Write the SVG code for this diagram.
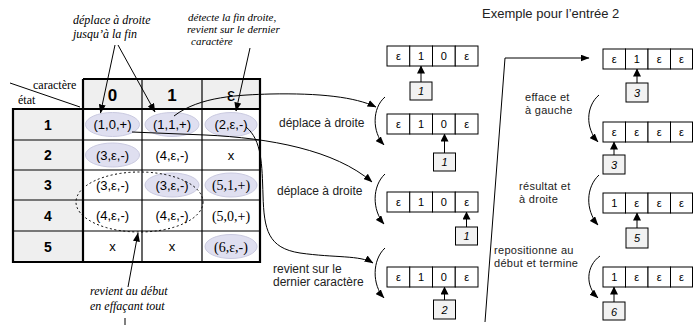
<svg xmlns="http://www.w3.org/2000/svg" width="693" height="325" viewBox="0 0 693 325">
<defs>
<marker id="ah" markerWidth="9" markerHeight="7" refX="8.5" refY="3.5" orient="auto" markerUnits="userSpaceOnUse">
<path d="M0,0 L9,3.5 L0,7 Z" fill="#000"/>
</marker>
<marker id="hh" markerWidth="8" markerHeight="8" refX="7.5" refY="4" orient="auto" markerUnits="userSpaceOnUse">
<path d="M0,0 L8,4 L0,8 Z" fill="#000"/>
</marker>
</defs>
<style>
.it{font-family:"Liberation Serif",serif;font-style:italic;font-size:11px;fill:#000}
.ser{font-family:"Liberation Serif",serif;font-size:12px;fill:#000}
.lab{font-family:"Liberation Sans",sans-serif;font-size:12px;fill:#222}
.lab2{font-family:"Liberation Sans",sans-serif;font-size:11px;letter-spacing:0.3px;fill:#222}
.cell{font-family:"Liberation Sans",sans-serif;font-size:13px;fill:#000;text-anchor:middle}
.cells{font-family:"Liberation Serif",serif;font-size:14px;fill:#000;text-anchor:middle}
.hd{font-family:"Liberation Sans",sans-serif;font-size:17px;font-weight:bold;fill:#000;text-anchor:middle}
.rw{font-family:"Liberation Sans",sans-serif;font-size:14px;font-weight:bold;fill:#000;text-anchor:middle}
.gray{fill:#efefef}
.el{fill:#dfdff0;stroke:#cacae0;stroke-width:1}
.tc{fill:#fff;stroke:#000;stroke-width:1}
.hb{fill:#f2f2f2;stroke:#000;stroke-width:1}
.tt{font-family:"Liberation Sans",sans-serif;font-size:11px;fill:#000;text-anchor:middle}
.ht{font-family:"Liberation Sans",sans-serif;font-style:italic;font-size:11px;fill:#000;text-anchor:middle}
.ln{fill:none;stroke:#000;stroke-width:1}
.thin{stroke:#000;stroke-width:1.2}
.thick{stroke:#000;stroke-width:2.2}
</style>

<text class="lab" x="482" y="18" style="font-size:13px">Exemple pour l’entrée 2</text>

<g id="table">
<rect class="gray" x="83" y="79" width="177" height="30"/>
<rect class="gray" x="13" y="109" width="70" height="153"/>
<line x1="10" y1="83" x2="80" y2="107" class="ln"/>
<text class="ser" x="33" y="89">caractère</text>
<text class="ser" x="18" y="104">état</text>
<text class="hd" x="112.5" y="101">0</text>
<text class="hd" x="172" y="101">1</text>
<text class="hd" x="231" y="101" style="font-weight:normal;font-size:18px">ε</text>
<text class="rw" x="48" y="129.5">1</text>
<text class="rw" x="48" y="160">2</text>
<text class="rw" x="48" y="190">3</text>
<text class="rw" x="48" y="220.5">4</text>
<text class="rw" x="48" y="251.5">5</text>
<g class="thin">
<line x1="13" y1="140" x2="260" y2="140"/>
<line x1="13" y1="170" x2="260" y2="170"/>
<line x1="13" y1="200" x2="260" y2="200"/>
<line x1="13" y1="231" x2="260" y2="231"/>
<line x1="142" y1="79" x2="142" y2="262"/>
<line x1="202" y1="79" x2="202" y2="262"/>
</g>
<g class="thick" fill="none">
<path d="M83,79 H260 V262 H13 V109 H260"/>
<line x1="83" y1="79" x2="83" y2="262"/>
</g>
<ellipse class="el" cx="112.5" cy="124.5" rx="27" ry="12"/>
<ellipse class="el" cx="172" cy="124.5" rx="27" ry="12"/>
<ellipse class="el" cx="231" cy="124.5" rx="26" ry="12"/>
<ellipse class="el" cx="112.5" cy="155" rx="27" ry="12"/>
<ellipse class="el" cx="172" cy="185" rx="27" ry="12"/>
<ellipse class="el" cx="231" cy="185" rx="26" ry="12"/>
<ellipse class="el" cx="231" cy="246.5" rx="26" ry="12"/>
<text class="cell" x="112.5" y="129">(1,0,+)</text>
<text class="cell" x="172" y="129">(1,1,+)</text>
<text class="cell" x="231" y="129">(2,ε,-)</text>
<text class="cell" x="112.5" y="159.5">(3,ε,-)</text>
<text class="cell" x="172" y="159.5">(4,ε,-)</text>
<text class="cell" x="231" y="159.5">x</text>
<text class="cell" x="112.5" y="189.5">(3,ε,-)</text>
<text class="cell" x="172" y="189.5">(3,ε,-)</text>
<text class="cells" x="231" y="190">(5,1,+)</text>
<text class="cell" x="112.5" y="220">(4,ε,-)</text>
<text class="cell" x="172" y="220">(4,ε,-)</text>
<text class="cells" x="231" y="220.5">(5,0,+)</text>
<text class="cell" x="112.5" y="251">x</text>
<text class="cell" x="172" y="251">x</text>
<text class="cells" x="231" y="251.5">(6,ε,-)</text>
<ellipse cx="139.5" cy="202" rx="63.5" ry="30" fill="none" stroke="#000" stroke-width="1" stroke-dasharray="2,2.5"/>
</g>

<g id="annotations">
<text class="it" x="73" y="24" style="font-size:12px">déplace à droite</text>
<text class="it" x="73" y="38" style="font-size:12px">jusqu’à la fin</text>
<text class="it" x="188" y="21">détecte la fin droite,</text>
<text class="it" x="187" y="33">revient sur le dernier</text>
<text class="it" x="191" y="45">caractère</text>
<text class="it" x="90" y="295" style="font-size:12px">revient au début</text>
<text class="it" x="90" y="310" style="font-size:12px">en effaçant tout</text>
</g>

<g id="tapes-left">
<g id="tapeL1">
<rect class="tc" x="387" y="46" width="22.75" height="20"/><rect class="tc" x="409.75" y="46" width="22.75" height="20"/><rect class="tc" x="432.5" y="46" width="22.75" height="20"/><rect class="tc" x="455.25" y="46" width="22.75" height="20"/>
<text class="tt" x="398.4" y="60">ε</text><text class="tt" x="421.1" y="60">1</text><text class="tt" x="443.9" y="60">0</text><text class="tt" x="466.6" y="60">ε</text>
<rect class="hb" x="410" y="82" width="22" height="18"/><text class="ht" x="421" y="95">1</text>
</g>
<g id="tapeL2">
<rect class="tc" x="387" y="114" width="22.75" height="20"/><rect class="tc" x="409.75" y="114" width="22.75" height="20"/><rect class="tc" x="432.5" y="114" width="22.75" height="20"/><rect class="tc" x="455.25" y="114" width="22.75" height="20"/>
<text class="tt" x="398.4" y="128">ε</text><text class="tt" x="421.1" y="128">1</text><text class="tt" x="443.9" y="128">0</text><text class="tt" x="466.6" y="128">ε</text>
<rect class="hb" x="433.5" y="153" width="22" height="18"/><text class="ht" x="444.5" y="166">1</text>
</g>
<g id="tapeL3">
<rect class="tc" x="387" y="192" width="22.75" height="20"/><rect class="tc" x="409.75" y="192" width="22.75" height="20"/><rect class="tc" x="432.5" y="192" width="22.75" height="20"/><rect class="tc" x="455.25" y="192" width="22.75" height="20"/>
<text class="tt" x="398.4" y="206">ε</text><text class="tt" x="421.1" y="206">1</text><text class="tt" x="443.9" y="206">0</text><text class="tt" x="466.6" y="206">ε</text>
<rect class="hb" x="455.5" y="227" width="22" height="18"/><text class="ht" x="466.5" y="240">1</text>
</g>
<g id="tapeL4">
<rect class="tc" x="387" y="267" width="22.75" height="20"/><rect class="tc" x="409.75" y="267" width="22.75" height="20"/><rect class="tc" x="432.5" y="267" width="22.75" height="20"/><rect class="tc" x="455.25" y="267" width="22.75" height="20"/>
<text class="tt" x="398.4" y="281">ε</text><text class="tt" x="421.1" y="281">1</text><text class="tt" x="443.9" y="281">0</text><text class="tt" x="466.6" y="281">ε</text>
<rect class="hb" x="433.5" y="300" width="22" height="19"/><text class="ht" x="444.5" y="313.5">2</text>
</g>
<text class="lab" x="279" y="127">déplace à droite</text>
<text class="lab" x="277" y="195">déplace à droite</text>
<text class="lab" x="273" y="273">revient sur le</text>
<text class="lab" x="273" y="286">dernier caractère</text>
</g>

<g id="tapes-right">
<g id="tapeR1">
<rect class="tc" x="603" y="49" width="22.5" height="20"/><rect class="tc" x="625.5" y="49" width="22.5" height="20"/><rect class="tc" x="648" y="49" width="22.5" height="20"/><rect class="tc" x="670.5" y="49" width="22" height="20"/>
<text class="tt" x="614.3" y="63">ε</text><text class="tt" x="636.8" y="63">1</text><text class="tt" x="659.3" y="63">ε</text><text class="tt" x="681.5" y="63">ε</text>
<rect class="hb" x="626" y="83" width="22" height="19"/><text class="ht" x="637" y="96.5">3</text>
</g>
<g id="tapeR2">
<rect class="tc" x="603" y="122" width="22.5" height="20"/><rect class="tc" x="625.5" y="122" width="22.5" height="20"/><rect class="tc" x="648" y="122" width="22.5" height="20"/><rect class="tc" x="670.5" y="122" width="22" height="20"/>
<text class="tt" x="614.3" y="136">ε</text><text class="tt" x="636.8" y="136">ε</text><text class="tt" x="659.3" y="136">ε</text><text class="tt" x="681.5" y="136">ε</text>
<rect class="hb" x="603" y="155" width="22" height="19"/><text class="ht" x="614" y="168.5">3</text>
</g>
<g id="tapeR3">
<rect class="tc" x="603" y="193" width="22.5" height="20"/><rect class="tc" x="625.5" y="193" width="22.5" height="20"/><rect class="tc" x="648" y="193" width="22.5" height="20"/><rect class="tc" x="670.5" y="193" width="22" height="20"/>
<text class="tt" x="614.3" y="207">1</text><text class="tt" x="636.8" y="207">ε</text><text class="tt" x="659.3" y="207">ε</text><text class="tt" x="681.5" y="207">ε</text>
<rect class="hb" x="626" y="228" width="22" height="20"/><text class="ht" x="637" y="242">5</text>
</g>
<g id="tapeR4">
<rect class="tc" x="603" y="267" width="22.5" height="20"/><rect class="tc" x="625.5" y="267" width="22.5" height="20"/><rect class="tc" x="648" y="267" width="22.5" height="20"/><rect class="tc" x="670.5" y="267" width="22" height="20"/>
<text class="tt" x="614.3" y="281">1</text><text class="tt" x="636.8" y="281">ε</text><text class="tt" x="659.3" y="281">ε</text><text class="tt" x="681.5" y="281">ε</text>
<rect class="hb" x="603" y="302" width="22" height="18"/><text class="ht" x="614" y="315.5">6</text>
</g>
<text class="lab2" x="525" y="101">efface et</text>
<text class="lab2" x="525" y="114">à gauche</text>
<text class="lab2" x="519" y="190">résultat et</text>
<text class="lab2" x="519" y="203">à droite</text>
<text class="lab2" x="494" y="254">repositionne au</text>
<text class="lab2" x="494" y="267">début et termine</text>
</g>

<g id="connectors" class="ln">
<line x1="115" y1="45" x2="100.5" y2="113" marker-end="url(#ah)"/>
<line x1="118" y1="45" x2="155" y2="112" marker-end="url(#ah)"/>
<line x1="250" y1="48" x2="236" y2="111" marker-end="url(#ah)"/>
<line x1="128" y1="287" x2="138" y2="233" marker-end="url(#ah)"/>
<line x1="125" y1="318" x2="125" y2="325"/>
<path d="M174,116 C200,96 240,95 270,94 C320,93 355,97 376,107" marker-end="url(#ah)"/>
<path d="M132,132 L205,135 C270,138 335,150 372,182" marker-end="url(#ah)"/>
<path d="M246,127 C262,140 262,165 263,195 C264,230 268,248 300,253 C335,258 360,255 373,263" marker-end="url(#ah)"/>
<path d="M385,97 C372,108 372,132 384,145" marker-end="url(#ah)"/>
<path d="M385,174 C372,186 372,210 384,224" marker-end="url(#ah)"/>
<path d="M385,248 C372,260 372,285 384,298" marker-end="url(#ah)"/>
<path d="M599,95 C586,106 585,128 598,142" marker-end="url(#ah)"/>
<path d="M599,175 C586,187 585,210 598,225" marker-end="url(#ah)"/>
<path d="M600,256 C586,266 585,286 598,298" marker-end="url(#ah)"/>
<path d="M485,322 L505,58 L589,58" marker-end="url(#ah)"/>
<line x1="421" y1="82" x2="421" y2="66" marker-end="url(#hh)"/>
<line x1="444.5" y1="153" x2="444.5" y2="134" marker-end="url(#hh)"/>
<line x1="466.5" y1="227" x2="466.5" y2="212" marker-end="url(#hh)"/>
<line x1="444.5" y1="300" x2="444.5" y2="287" marker-end="url(#hh)"/>
<line x1="637" y1="83" x2="637" y2="69" marker-end="url(#hh)"/>
<line x1="614" y1="155" x2="614" y2="142" marker-end="url(#hh)"/>
<line x1="637" y1="228" x2="637" y2="213" marker-end="url(#hh)"/>
<line x1="614" y1="302" x2="614" y2="287" marker-end="url(#hh)"/>
</g>
</svg>
